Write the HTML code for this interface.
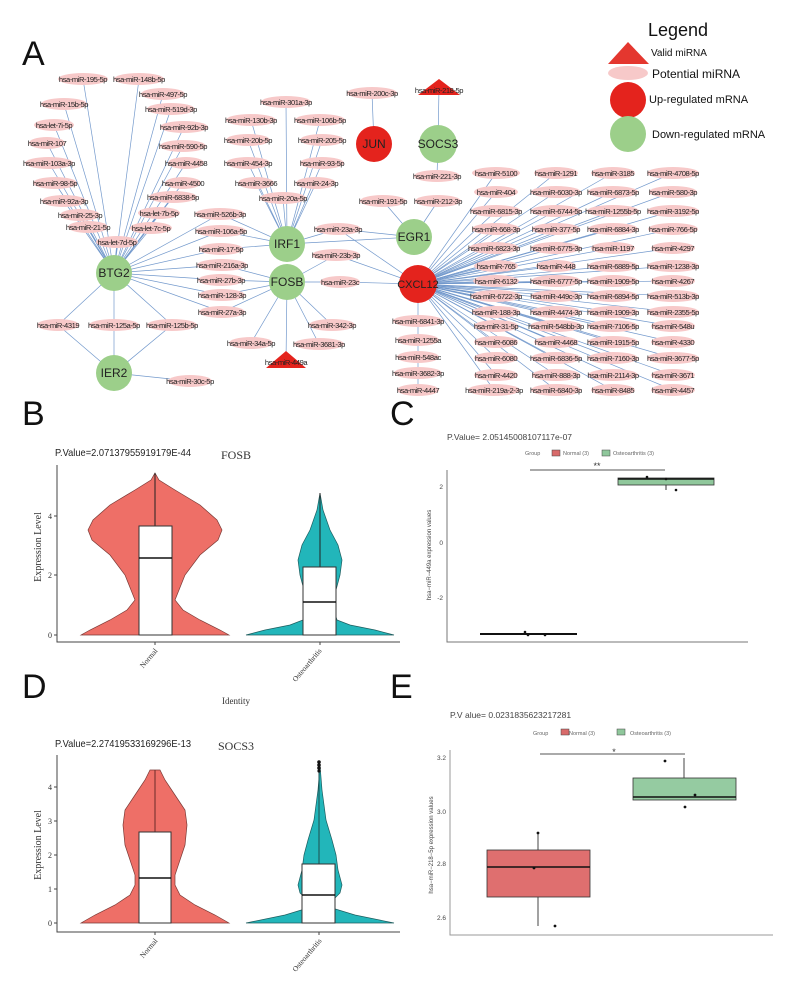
<!DOCTYPE html>
<html><head><meta charset="utf-8"><style>
html,body{margin:0;padding:0;background:#fff}
svg{display:block}
.l{font-family:"Liberation Sans",sans-serif;font-size:7.6px;letter-spacing:-0.45px;fill:#222;text-anchor:middle}
.e{fill:#f7c9c9}
.ed{stroke:#7399cc;stroke-width:0.7;fill:none}
.n{font-family:"Liberation Sans",sans-serif;font-size:12px;fill:#222;text-anchor:middle}
.big{font-family:"Liberation Sans",sans-serif;font-size:34px;fill:#111}
.s{font-family:"Liberation Serif",serif;fill:#333}
.ss{font-family:"Liberation Sans",sans-serif;fill:#444}
</style></head><body>
<svg width="795" height="1005" viewBox="0 0 795 1005" xmlns="http://www.w3.org/2000/svg">
<rect width="795" height="1005" fill="#fff"/>
<text class="big" x="22" y="65">A</text>
<text class="big" x="22" y="425">B</text>
<text class="big" x="390" y="425">C</text>
<text class="big" x="22" y="698">D</text>
<text class="big" x="390" y="698">E</text>

<!-- edges -->
<g class="ed">
<path d="M114,273 L83,79 M114,273 L139,79 M114,273 L163,94 M114,273 L64,104 M114,273 L171,109 M114,273 L54,125 M114,273 L184,127 M114,273 L47,143 M114,273 L183,146 M114,273 L49,163 M114,273 L186,163 M114,273 L55,183 M114,273 L183,183 M114,273 L64,201 M114,273 L173,197 M114,273 L80,215 M114,273 L159,213 M114,273 L88,227 M114,273 L151,228 M114,273 L117,242"/>
<path d="M114,273 L220,214 M114,273 L221,231 M114,273 L221,249 M114,273 L222,265 M114,273 L221,280 M114,273 L222,295 M114,273 L222,312 M114,273 L58,325 M114,273 L114,325 M114,273 L172,325 M114,373 L58,325 M114,373 L114,325 M114,373 L172,325 M114,373 L190,381"/>
<path d="M287,244 L220,214 M287,244 L221,231 M287,244 L221,249 M287,282 L222,265 M287,282 L221,280 M287,282 L222,295 M287,282 L222,312 M287,244 L338,229 M287,282 L336,255 M287,282 L340,282 M287,282 L251,343 M287,282 L332,325 M287,282 L319,344 M287,282 L286,362"/>
<path d="M287,244 L286,102 M287,244 L251,120 M287,244 L320,120 M287,244 L248,140 M287,244 L322,140 M287,244 L248,163 M287,244 L322,163 M287,244 L256,183 M287,244 L316,183 M287,244 L283,198"/>
<path d="M374,144 L372,93 M438,144 L439,88 M438,144 L437,176 M414,237 L383,201 M414,237 L438,201 M414,237 L287,244 M414,237 L338,229 M418,284 L338,229 M418,284 L336,255 M418,284 L340,282 M418,284 L418,390"/>
<path d="M418,284 L496,173 M418,284 L496,192 M418,284 L496,211 M418,284 L496,229 M418,284 L494,248 M418,284 L496,266 M418,284 L496,281 M418,284 L496,296 M418,284 L496,312 M418,284 L496,326 M418,284 L496,342 M418,284 L496,358 M418,284 L496,375 M418,284 L494,390"/>
<path d="M418,284 L556,173 M418,284 L556,192 M418,284 L556,211 M418,284 L556,229 M418,284 L556,248 M418,284 L556,266 M418,284 L556,281 M418,284 L556,296 M418,284 L556,312 M418,284 L556,326 M418,284 L556,342 M418,284 L556,358 M418,284 L556,375 M418,284 L556,390"/>
<path d="M418,284 L613,173 M418,284 L613,192 M418,284 L613,211 M418,284 L613,229 M418,284 L613,248 M418,284 L613,266 M418,284 L613,281 M418,284 L613,296 M418,284 L613,312 M418,284 L613,326 M418,284 L613,342 M418,284 L613,358 M418,284 L613,375 M418,284 L613,390"/>
<path d="M418,284 L673,173 M418,284 L673,192 M418,284 L673,211 M418,284 L673,229 M418,284 L673,248 M418,284 L673,266 M418,284 L673,281 M418,284 L673,296 M418,284 L673,312 M418,284 L673,326 M418,284 L673,342 M418,284 L673,358 M418,284 L673,375 M418,284 L673,390"/>
</g>

<!-- ellipses -->
<g class="e">
<ellipse cx="83" cy="79" rx="25" ry="6"/><ellipse cx="139" cy="79" rx="25" ry="6"/><ellipse cx="163" cy="94" rx="22" ry="6"/><ellipse cx="64" cy="104" rx="23" ry="6"/><ellipse cx="171" cy="109" rx="24" ry="6"/><ellipse cx="54" cy="125" rx="20" ry="6"/><ellipse cx="184" cy="127" rx="24" ry="6"/><ellipse cx="47" cy="143" rx="18" ry="6"/><ellipse cx="183" cy="146" rx="23" ry="6"/><ellipse cx="49" cy="163" rx="24" ry="6"/><ellipse cx="186" cy="163" rx="18" ry="6"/><ellipse cx="55" cy="183" rx="22" ry="6"/><ellipse cx="183" cy="183" rx="18" ry="6"/><ellipse cx="64" cy="201" rx="22" ry="6"/><ellipse cx="173" cy="197" rx="24" ry="6"/><ellipse cx="80" cy="215" rx="20" ry="6"/><ellipse cx="159" cy="213" rx="21" ry="6"/><ellipse cx="88" cy="227" rx="20" ry="6"/><ellipse cx="151" cy="228" rx="21" ry="6"/><ellipse cx="117" cy="242" rx="21" ry="6"/>
<ellipse cx="220" cy="214" rx="25" ry="6"/><ellipse cx="221" cy="231" rx="25" ry="6"/><ellipse cx="221" cy="249" rx="22" ry="6"/><ellipse cx="222" cy="265" rx="25" ry="6"/><ellipse cx="221" cy="280" rx="23" ry="6"/><ellipse cx="222" cy="295" rx="23" ry="6"/><ellipse cx="222" cy="312" rx="23" ry="6"/><ellipse cx="58" cy="325" rx="21" ry="6"/><ellipse cx="114" cy="325" rx="25" ry="6"/><ellipse cx="172" cy="325" rx="25" ry="6"/><ellipse cx="190" cy="381" rx="22" ry="6"/>
<ellipse cx="286" cy="102" rx="25" ry="6"/><ellipse cx="251" cy="120" rx="25" ry="6"/><ellipse cx="320" cy="120" rx="25" ry="6"/><ellipse cx="248" cy="140" rx="22" ry="6"/><ellipse cx="322" cy="140" rx="22" ry="6"/><ellipse cx="248" cy="163" rx="22" ry="6"/><ellipse cx="322" cy="163" rx="22" ry="6"/><ellipse cx="256" cy="183" rx="18" ry="6"/><ellipse cx="316" cy="183" rx="20" ry="6"/><ellipse cx="283" cy="198" rx="23" ry="6"/><ellipse cx="338" cy="229" rx="23" ry="6"/><ellipse cx="336" cy="255" rx="24" ry="6"/><ellipse cx="340" cy="282" rx="20" ry="6"/><ellipse cx="251" cy="343" rx="22" ry="6"/><ellipse cx="332" cy="325" rx="23" ry="6"/><ellipse cx="319" cy="344" rx="25" ry="6"/>
<ellipse cx="372" cy="93" rx="25" ry="6"/><ellipse cx="437" cy="176" rx="23" ry="6"/><ellipse cx="383" cy="201" rx="23" ry="6"/><ellipse cx="438" cy="201" rx="23" ry="6"/>
<ellipse cx="418" cy="321" rx="25" ry="6"/><ellipse cx="418" cy="340" rx="21" ry="6"/><ellipse cx="418" cy="357" rx="21" ry="6"/><ellipse cx="418" cy="373" rx="24" ry="6"/><ellipse cx="418" cy="390" rx="21" ry="6"/>
</g>
<g class="e">
<ellipse cx="496" cy="173" rx="24" ry="6"/><ellipse cx="496" cy="192" rx="22" ry="6"/><ellipse cx="496" cy="211" rx="25" ry="6"/><ellipse cx="496" cy="229" rx="24" ry="6"/><ellipse cx="494" cy="248" rx="25" ry="6"/><ellipse cx="496" cy="266" rx="22" ry="6"/><ellipse cx="496" cy="281" rx="23" ry="6"/><ellipse cx="496" cy="296" rx="25" ry="6"/><ellipse cx="496" cy="312" rx="24" ry="6"/><ellipse cx="496" cy="326" rx="22" ry="6"/><ellipse cx="496" cy="342" rx="22" ry="6"/><ellipse cx="496" cy="358" rx="22" ry="6"/><ellipse cx="496" cy="375" rx="22" ry="6"/><ellipse cx="494" cy="390" rx="26" ry="6"/>
<ellipse cx="556" cy="173" rx="22" ry="6"/><ellipse cx="556" cy="192" rx="25" ry="6"/><ellipse cx="556" cy="211" rx="25" ry="6"/><ellipse cx="556" cy="229" rx="24" ry="6"/><ellipse cx="556" cy="248" rx="25" ry="6"/><ellipse cx="556" cy="266" rx="20" ry="6"/><ellipse cx="556" cy="281" rx="25" ry="6"/><ellipse cx="556" cy="296" rx="25" ry="6"/><ellipse cx="556" cy="312" rx="25" ry="6"/><ellipse cx="556" cy="326" rx="26" ry="6"/><ellipse cx="556" cy="342" rx="22" ry="6"/><ellipse cx="556" cy="358" rx="25" ry="6"/><ellipse cx="556" cy="375" rx="24" ry="6"/><ellipse cx="556" cy="390" rx="25" ry="6"/>
<ellipse cx="613" cy="173" rx="22" ry="6"/><ellipse cx="613" cy="192" rx="25" ry="6"/><ellipse cx="613" cy="211" rx="26" ry="6"/><ellipse cx="613" cy="229" rx="25" ry="6"/><ellipse cx="613" cy="248" rx="22" ry="6"/><ellipse cx="613" cy="266" rx="25" ry="6"/><ellipse cx="613" cy="281" rx="25" ry="6"/><ellipse cx="613" cy="296" rx="25" ry="6"/><ellipse cx="613" cy="312" rx="25" ry="6"/><ellipse cx="613" cy="326" rx="25" ry="6"/><ellipse cx="613" cy="342" rx="25" ry="6"/><ellipse cx="613" cy="358" rx="25" ry="6"/><ellipse cx="613" cy="375" rx="25" ry="6"/><ellipse cx="613" cy="390" rx="22" ry="6"/>
<ellipse cx="673" cy="173" rx="26" ry="6"/><ellipse cx="673" cy="192" rx="24" ry="6"/><ellipse cx="673" cy="211" rx="26" ry="6"/><ellipse cx="673" cy="229" rx="25" ry="6"/><ellipse cx="673" cy="248" rx="22" ry="6"/><ellipse cx="673" cy="266" rx="26" ry="6"/><ellipse cx="673" cy="281" rx="22" ry="6"/><ellipse cx="673" cy="296" rx="26" ry="6"/><ellipse cx="673" cy="312" rx="26" ry="6"/><ellipse cx="673" cy="326" rx="22" ry="6"/><ellipse cx="673" cy="342" rx="22" ry="6"/><ellipse cx="673" cy="358" rx="26" ry="6"/><ellipse cx="673" cy="375" rx="22" ry="6"/><ellipse cx="673" cy="390" rx="22" ry="6"/>
</g>

<!-- nodes -->
<g fill="#9ccf8a">
<circle cx="114" cy="273" r="18"/><circle cx="114" cy="373" r="18"/><circle cx="287" cy="244" r="18"/><circle cx="287" cy="282" r="18"/><circle cx="438" cy="144" r="19"/><circle cx="414" cy="237" r="18"/>
</g>
<g fill="#e4231d">
<circle cx="374" cy="144" r="18"/><circle cx="418" cy="284" r="19"/>
<polygon points="286,351 266,368 306,368"/><polygon points="439,79 418,95 460,95"/>
</g>
<text class="n" x="114" y="277">BTG2</text><text class="n" x="114" y="377">IER2</text><text class="n" x="287" y="248">IRF1</text><text class="n" x="287" y="286">FOSB</text><text class="n" x="438" y="148">SOCS3</text><text class="n" x="414" y="241">EGR1</text><text class="n" x="374" y="148">JUN</text><text class="n" x="418" y="288" style="font-size:11px">CXCL12</text>

<!-- labels -->
<g class="l">
<text x="83" y="82">hsa-miR-195-5p</text><text x="139" y="82">hsa-miR-148b-5p</text><text x="163" y="97">hsa-miR-497-5p</text><text x="64" y="107">hsa-miR-15b-5p</text><text x="171" y="112">hsa-miR-519d-3p</text><text x="54" y="128">hsa-let-7i-5p</text><text x="184" y="130">hsa-miR-92b-3p</text><text x="47" y="146">hsa-miR-107</text><text x="183" y="149">hsa-miR-590-5p</text><text x="49" y="166">hsa-miR-103a-3p</text><text x="186" y="166">hsa-miR-4458</text><text x="55" y="186">hsa-miR-98-5p</text><text x="183" y="186">hsa-miR-4500</text><text x="64" y="204">hsa-miR-92a-3p</text><text x="173" y="200">hsa-miR-6838-5p</text><text x="80" y="218">hsa-miR-25-3p</text><text x="159" y="216">hsa-let-7b-5p</text><text x="88" y="230">hsa-miR-21-5p</text><text x="151" y="231">hsa-let-7c-5p</text><text x="117" y="245">hsa-let-7d-5p</text>
<text x="220" y="217">hsa-miR-526b-3p</text><text x="221" y="234">hsa-miR-106a-5p</text><text x="221" y="252">hsa-miR-17-5p</text><text x="222" y="268">hsa-miR-216a-3p</text><text x="221" y="283">hsa-miR-27b-3p</text><text x="222" y="298">hsa-miR-128-3p</text><text x="222" y="315">hsa-miR-27a-3p</text><text x="58" y="328">hsa-miR-4319</text><text x="114" y="328">hsa-miR-125a-5p</text><text x="172" y="328">hsa-miR-125b-5p</text><text x="190" y="384">hsa-miR-30c-5p</text>
<text x="286" y="105">hsa-miR-301a-3p</text><text x="251" y="123">hsa-miR-130b-3p</text><text x="320" y="123">hsa-miR-106b-5p</text><text x="248" y="143">hsa-miR-20b-5p</text><text x="322" y="143">hsa-miR-205-5p</text><text x="248" y="166">hsa-miR-454-3p</text><text x="322" y="166">hsa-miR-93-5p</text><text x="256" y="186">hsa-miR-3666</text><text x="316" y="186">hsa-miR-24-3p</text><text x="283" y="201">hsa-miR-20a-5p</text><text x="338" y="232">hsa-miR-23a-3p</text><text x="336" y="258">hsa-miR-23b-3p</text><text x="340" y="285">hsa-miR-23c</text><text x="251" y="346">hsa-miR-34a-5p</text><text x="332" y="328">hsa-miR-342-3p</text><text x="319" y="347">hsa-miR-3681-3p</text><text x="286" y="365">hsa-miR-449a</text>
<text x="372" y="96">hsa-miR-200c-3p</text><text x="439" y="93">hsa-miR-218-5p</text><text x="437" y="179">hsa-miR-221-3p</text><text x="383" y="204">hsa-miR-191-5p</text><text x="438" y="204">hsa-miR-212-3p</text>
<text x="418" y="324">hsa-miR-6841-3p</text><text x="418" y="343">hsa-miR-1255a</text><text x="418" y="360">hsa-miR-548ac</text><text x="418" y="376">hsa-miR-3682-3p</text><text x="418" y="393">hsa-miR-4447</text>
<text x="496" y="176">hsa-miR-5100</text><text x="496" y="195">hsa-miR-404</text><text x="496" y="214">hsa-miR-6815-3p</text><text x="496" y="232">hsa-miR-668-3p</text><text x="494" y="251">hsa-miR-6823-3p</text><text x="496" y="269">hsa-miR-765</text><text x="496" y="284">hsa-miR-6132</text><text x="496" y="299">hsa-miR-6722-3p</text><text x="496" y="315">hsa-miR-188-3p</text><text x="496" y="329">hsa-miR-31-5p</text><text x="496" y="345">hsa-miR-6086</text><text x="496" y="361">hsa-miR-6080</text><text x="496" y="378">hsa-miR-4420</text><text x="494" y="393">hsa-miR-219a-2-3p</text>
<text x="556" y="176">hsa-miR-1291</text><text x="556" y="195">hsa-miR-6030-3p</text><text x="556" y="214">hsa-miR-6744-5p</text><text x="556" y="232">hsa-miR-377-5p</text><text x="556" y="251">hsa-miR-6775-3p</text><text x="556" y="269">hsa-miR-448</text><text x="556" y="284">hsa-miR-6777-5p</text><text x="556" y="299">hsa-miR-449c-3p</text><text x="556" y="315">hsa-miR-4474-3p</text><text x="556" y="329">hsa-miR-548bb-3p</text><text x="556" y="345">hsa-miR-4468</text><text x="556" y="361">hsa-miR-6836-5p</text><text x="556" y="378">hsa-miR-888-3p</text><text x="556" y="393">hsa-miR-6840-3p</text>
<text x="613" y="176">hsa-miR-3185</text><text x="613" y="195">hsa-miR-6873-5p</text><text x="613" y="214">hsa-miR-1255b-5p</text><text x="613" y="232">hsa-miR-6884-3p</text><text x="613" y="251">hsa-miR-1197</text><text x="613" y="269">hsa-miR-6889-5p</text><text x="613" y="284">hsa-miR-1909-5p</text><text x="613" y="299">hsa-miR-6894-5p</text><text x="613" y="315">hsa-miR-1909-3p</text><text x="613" y="329">hsa-miR-7106-5p</text><text x="613" y="345">hsa-miR-1915-5p</text><text x="613" y="361">hsa-miR-7160-3p</text><text x="613" y="378">hsa-miR-2114-3p</text><text x="613" y="393">hsa-miR-8485</text>
<text x="673" y="176">hsa-miR-4708-5p</text><text x="673" y="195">hsa-miR-580-3p</text><text x="673" y="214">hsa-miR-3192-5p</text><text x="673" y="232">hsa-miR-766-5p</text><text x="673" y="251">hsa-miR-4297</text><text x="673" y="269">hsa-miR-1238-3p</text><text x="673" y="284">hsa-miR-4267</text><text x="673" y="299">hsa-miR-513b-3p</text><text x="673" y="315">hsa-miR-2355-5p</text><text x="673" y="329">hsa-miR-548u</text><text x="673" y="345">hsa-miR-4330</text><text x="673" y="361">hsa-miR-3677-5p</text><text x="673" y="378">hsa-miR-3671</text><text x="673" y="393">hsa-miR-4457</text>
</g>

<!-- legend -->
<text x="648" y="36" style="font-family:'Liberation Sans',sans-serif;font-size:18px;fill:#111">Legend</text>
<polygon points="628,42 608,64 649,64" fill="#e4372f"/>
<ellipse cx="628" cy="73" rx="20" ry="7" fill="#f7c9c9"/>
<circle cx="628" cy="100" r="18" fill="#e4231d"/>
<circle cx="628" cy="134" r="18" fill="#9ccf8a"/>
<g style="font-family:'Liberation Sans',sans-serif;fill:#111">
<text x="651" y="56" style="font-size:10px">Valid miRNA</text>
<text x="652" y="78" style="font-size:12px">Potential miRNA</text>
<text x="649" y="103" style="font-size:11px">Up-regulated mRNA</text>
<text x="652" y="138" style="font-size:11px">Down-regulated mRNA</text>
</g>

<!-- Panel B -->
<text class="ss" x="55" y="456" textLength="136" lengthAdjust="spacingAndGlyphs" style="font-size:10.5px;fill:#222">P.Value=2.07137955919179E-44</text>
<text class="s" x="236" y="459" text-anchor="middle" style="font-size:12px">FOSB</text>
<path d="M155,473 L159,480 175,490 200,505 217,520 222,530 218,540 200,555 185,575 179,590 175,600 183,610 200,620 220,630 229,635 81,635 90,630 110,620 127,610 135,600 131,590 125,575 110,555 92,540 88,530 93,520 110,505 135,490 151,480Z" fill="#ee6f67" stroke="#7a3a36" stroke-width="0.7"/>
<path d="M320,493 L323,510 330,530 338,545 342,560 340,575 336,590 334,610 337,620 350,625 375,630 394,635 246,635 265,630 290,625 303,620 306,610 304,590 300,575 298,560 302,545 310,530 317,510Z" fill="#22b6ba" stroke="#1d5d5f" stroke-width="0.7"/>
<line x1="155" y1="473" x2="155" y2="526" stroke="#222"/><rect x="139" y="526" width="33" height="109" fill="#fff" stroke="#333"/><line x1="139" y1="558" x2="172" y2="558" stroke="#111" stroke-width="1.5"/>
<line x1="320" y1="493" x2="320" y2="567" stroke="#222"/><rect x="303" y="567" width="33" height="68" fill="#fff" stroke="#333"/><line x1="303" y1="602" x2="336" y2="602" stroke="#111" stroke-width="1.5"/>
<path d="M57,465 V642 H400" fill="none" stroke="#444" stroke-width="1"/>
<g class="s" style="font-size:8px" text-anchor="end"><text x="52" y="638">0</text><text x="52" y="578">2</text><text x="52" y="519">4</text></g>
<path d="M54,635H57M54,575H57M54,516H57M155,642V645M320,642V645" stroke="#444"/>
<text class="s" transform="translate(41,547) rotate(-90)" text-anchor="middle" style="font-size:10px">Expression Level</text>
<text class="s" transform="translate(158,651) rotate(-50)" text-anchor="end" style="font-size:7.5px">Normal</text>
<text class="s" transform="translate(322,651) rotate(-50)" text-anchor="end" style="font-size:7.5px">Osteoarthritis</text>
<text class="s" x="236" y="704" text-anchor="middle" style="font-size:9px">Identity</text>

<!-- Panel D -->
<text class="ss" x="55" y="747" textLength="136" lengthAdjust="spacingAndGlyphs" style="font-size:10.5px;fill:#222">P.Value=2.27419533169296E-13</text>
<text class="s" x="236" y="750" text-anchor="middle" style="font-size:12px">SOCS3</text>
<path d="M150,770 L160,770 165,780 175,795 185,810 187,825 185,845 180,860 175,875 175,885 180,895 195,905 215,915 229,923 81,923 95,915 115,905 130,895 135,885 135,875 130,860 125,845 123,825 125,810 135,795 145,780Z" fill="#ee6f67" stroke="#7a3a36" stroke-width="0.7"/>
<path d="M320,765 L322,790 326,820 332,840 336,855 338,870 342,885 340,893 333,900 332,908 355,915 394,923 246,923 285,915 308,908 307,900 300,893 298,885 302,870 304,855 308,840 314,820 318,790Z" fill="#22b6ba" stroke="#1d5d5f" stroke-width="0.7"/>
<line x1="155" y1="770" x2="155" y2="832" stroke="#6b2b28"/><rect x="139" y="832" width="32" height="91" fill="#fff" stroke="#333"/><line x1="139" y1="878" x2="171" y2="878" stroke="#111" stroke-width="1.5"/>
<line x1="319" y1="770" x2="319" y2="864" stroke="#1d4d4f"/><rect x="302" y="864" width="33" height="59" fill="#fff" stroke="#333"/><line x1="302" y1="895" x2="335" y2="895" stroke="#111" stroke-width="1.5"/>
<g fill="#111"><circle cx="319" cy="762" r="1.8"/><circle cx="319" cy="765" r="1.8"/><circle cx="319" cy="768" r="1.8"/><circle cx="319" cy="771" r="1.6"/></g>
<path d="M57,755 V932 H400" fill="none" stroke="#444" stroke-width="1"/>
<g class="s" style="font-size:8px" text-anchor="end"><text x="52" y="926">0</text><text x="52" y="892">1</text><text x="52" y="858">2</text><text x="52" y="824">3</text><text x="52" y="790">4</text></g>
<path d="M54,923H57M54,889H57M54,855H57M54,821H57M54,787H57M155,932V935M319,932V935" stroke="#444"/>
<text class="s" transform="translate(41,845) rotate(-90)" text-anchor="middle" style="font-size:10px">Expression Level</text>
<text class="s" transform="translate(158,941) rotate(-50)" text-anchor="end" style="font-size:7.5px">Normal</text>
<text class="s" transform="translate(322,941) rotate(-50)" text-anchor="end" style="font-size:7.5px">Osteoarthritis</text>

<!-- Panel C -->
<text class="ss" x="447" y="440" style="font-size:8.5px">P.Value= 2.05145008107117e-07</text>
<g class="ss" style="font-size:5.5px;fill:#666"><text x="525" y="455">Group</text><text x="563" y="455">Normal (3)</text><text x="613" y="455">Osteoarthritis (3)</text></g>
<rect x="552" y="450" width="8" height="6" fill="#d86a6a" stroke="#444" stroke-width="0.5"/><rect x="602" y="450" width="8" height="6" fill="#8fc79b" stroke="#444" stroke-width="0.5"/>
<line x1="530" y1="470" x2="665" y2="470" stroke="#555"/><text x="597" y="469" text-anchor="middle" style="font-family:'Liberation Sans';font-size:9px;fill:#333">**</text>
<path d="M447,470 V642 H748" fill="none" stroke="#777"/>
<g class="ss" style="font-size:6.5px" text-anchor="end"><text x="443" y="489">2</text><text x="443" y="545">0</text><text x="443" y="600">-2</text></g>
<text class="ss" transform="translate(431,555) rotate(-90)" text-anchor="middle" style="font-size:6px">hsa−miR−449a expression values</text>
<rect x="480" y="633" width="97" height="2" fill="#111"/>
<g fill="#111"><circle cx="525" cy="632" r="1.3"/><circle cx="528" cy="635" r="1.3"/><circle cx="545" cy="635" r="1.3"/></g>
<rect x="618" y="478" width="96" height="7" fill="#8fc79b" stroke="#333" stroke-width="0.8"/><line x1="618" y1="479" x2="714" y2="479" stroke="#111" stroke-width="1.5"/>
<line x1="666" y1="485" x2="666" y2="490" stroke="#333"/>
<g fill="#111"><circle cx="647" cy="477" r="1.3"/><circle cx="666" cy="479" r="1.3"/><circle cx="676" cy="490" r="1.3"/></g>

<!-- Panel E -->
<text class="ss" x="450" y="718" style="font-size:8.5px">P.V alue= 0.0231835623217281</text>
<g class="ss" style="font-size:5.5px;fill:#666"><text x="533" y="735">Group</text><text x="569" y="735">Normal (3)</text><text x="630" y="735">Osteoarthritis (3)</text></g>
<rect x="561" y="729" width="8" height="6" fill="#d86a6a" stroke="#444" stroke-width="0.5"/><rect x="617" y="729" width="8" height="6" fill="#8fc79b" stroke="#444" stroke-width="0.5"/>
<line x1="540" y1="754" x2="685" y2="754" stroke="#555"/><text x="614" y="755" text-anchor="middle" style="font-family:'Liberation Sans';font-size:9px;fill:#333">*</text>
<path d="M450,750 V935 H773" fill="none" stroke="#999"/>
<g class="ss" style="font-size:6.5px" text-anchor="end"><text x="446" y="760">3.2</text><text x="446" y="814">3.0</text><text x="446" y="866">2.8</text><text x="446" y="920">2.6</text></g>
<text class="ss" transform="translate(433,845) rotate(-90)" text-anchor="middle" style="font-size:6px">hsa−miR−218−5p expression values</text>
<line x1="538" y1="833" x2="538" y2="926" stroke="#444"/>
<rect x="487" y="850" width="103" height="47" fill="#df6f6f" stroke="#333" stroke-width="0.8"/><line x1="487" y1="867" x2="590" y2="867" stroke="#111" stroke-width="1.5"/>
<line x1="684" y1="758" x2="684" y2="778" stroke="#444"/>
<rect x="633" y="778" width="103" height="22" fill="#95cba1" stroke="#333" stroke-width="0.8"/><line x1="633" y1="797" x2="736" y2="797" stroke="#111" stroke-width="1.5"/>
<g fill="#111"><circle cx="538" cy="833" r="1.4"/><circle cx="534" cy="868" r="1.4"/><circle cx="555" cy="926" r="1.4"/><circle cx="665" cy="761" r="1.4"/><circle cx="695" cy="795" r="1.4"/><circle cx="685" cy="807" r="1.4"/></g>
</svg>
</body></html>
